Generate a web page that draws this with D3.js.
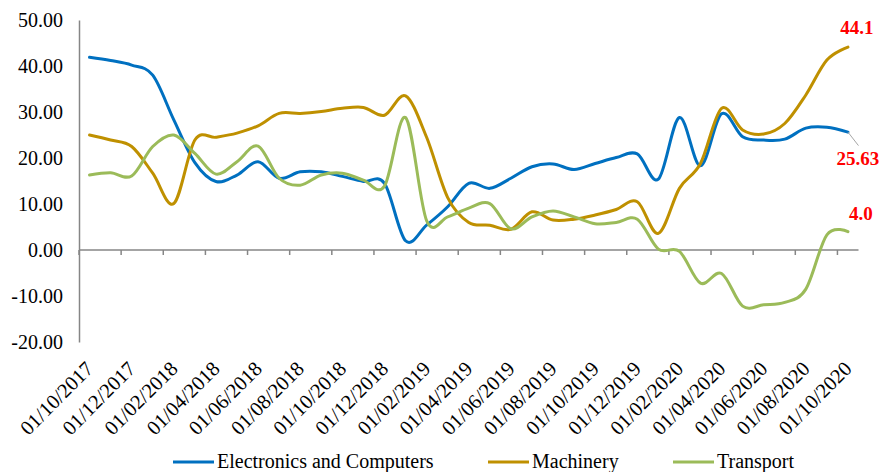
<!DOCTYPE html>
<html>
<head>
<meta charset="utf-8">
<script src="https://cdn.jsdelivr.net/npm/d3@7"></script>
<style>
  body { margin: 0; background: #fff; }
  svg { display: block; }
  text { font-family: "Liberation Serif", "Times New Roman", serif; fill: #000; }
</style>
</head>
<body>
<svg id="chart" width="881" height="472"></svg>
<script>
// Monthly categories, Oct 2017 – Oct 2020
const months = [
  "01/10/2017","01/11/2017","01/12/2017","01/01/2018","01/02/2018","01/03/2018",
  "01/04/2018","01/05/2018","01/06/2018","01/07/2018","01/08/2018","01/09/2018",
  "01/10/2018","01/11/2018","01/12/2018","01/01/2019","01/02/2019","01/03/2019",
  "01/04/2019","01/05/2019","01/06/2019","01/07/2019","01/08/2019","01/09/2019",
  "01/10/2019","01/11/2019","01/12/2019","01/01/2020","01/02/2020","01/03/2020",
  "01/04/2020","01/05/2020","01/06/2020","01/07/2020","01/08/2020","01/09/2020",
  "01/10/2020"
];

const electronics = [
  41.9, 41.2, 40.2, 38.0, 28.3, 19.0, 14.9, 16.3, 19.2, 15.6, 17.0, 17.0,
  16.0, 14.9, 14.5, 2.0, 5.4, 9.4, 14.5, 13.4, 15.6, 18.1, 18.7, 17.5,
  18.8, 20.1, 20.9, 15.4, 28.8, 18.3, 29.6, 24.6, 23.9, 24.1, 26.5, 26.7,
  25.63
];

const machinery = [
  25.0, 23.9, 22.5, 16.7, 10.1, 23.9, 24.5, 25.4, 27.0, 29.7, 29.7, 30.1,
  30.8, 31.0, 29.3, 33.5, 24.5, 11.4, 6.0, 5.4, 4.5, 8.3, 6.5, 6.7,
  7.6, 8.8, 10.5, 3.6, 13.4, 18.8, 30.8, 26.1, 25.2, 27.5, 33.7, 41.3,
  44.1
];

const transport = [
  16.3, 16.8, 16.1, 22.5, 25.0, 21.0, 16.5, 19.2, 22.6, 15.6, 14.1, 16.3,
  16.7, 15.2, 13.9, 28.8, 6.4, 7.2, 9.1, 10.1, 4.6, 7.2, 8.5, 7.2,
  5.7, 6.0, 6.7, 0.2, -0.3, -7.2, -5.1, -12.2, -11.9, -11.4, -8.5, 3.3,
  4.0
];

const yTicks = [-20, -10, 0, 10, 20, 30, 40, 50];

const seriesNames = ["Electronics and Computers", "Machinery", "Transport"];
const seriesColors = ["#0070C0", "#BF9000", "#9BBB59"];
const seriesValues = [electronics, machinery, transport];

// End-of-series value labels
const endLabels = ["25.63", "44.1", "4.0"];

const svg = d3.select("#chart");
const axisColor = "#868686";

const x = d3.scaleBand().domain(months).range([79, 858.5]);
const y = d3.scaleLinear().domain([-20, 50]).range([342, 20]);
const cx = i => x(months[i]) + x.bandwidth() / 2;

// Y axis
const yAxis = d3.axisLeft(y)
  .tickValues(yTicks)
  .tickSize(0)
  .tickPadding(16)
  .tickFormat(v => v.toFixed(2));
const yg = svg.append("g").attr("transform", `translate(${x.range()[0]},0)`).call(yAxis);
yg.select(".domain").attr("stroke", axisColor).attr("stroke-width", 1.5);
yg.selectAll(".tick text")
  .attr("font-family", '"Liberation Serif", "Times New Roman", serif')
  .attr("font-size", 20).attr("fill", "#000");

// X axis line at zero with tick marks every two months
const xg = svg.append("g");
xg.append("line")
  .attr("x1", x.range()[0]).attr("x2", x.range()[1])
  .attr("y1", y(0)).attr("y2", y(0))
  .attr("stroke", axisColor).attr("stroke-width", 1.5);
const tickIdx = months.map((m, i) => i).filter(i => i % 2 === 0);
xg.selectAll("line.tick")
  .data(tickIdx)
  .join("line")
  .attr("class", "tick")
  .attr("x1", i => x(months[i])).attr("x2", i => x(months[i]))
  .attr("y1", y(0)).attr("y2", y(0) + 5)
  .attr("stroke", axisColor).attr("stroke-width", 1.5);

// Rotated category labels below the plot
xg.selectAll("text.xl")
  .data(tickIdx)
  .join("text")
  .attr("class", "xl")
  .attr("transform", i => `translate(${cx(i)},${365}) rotate(-45)`)
  .attr("text-anchor", "end")
  .attr("dy", "0.35em")
  .attr("font-size", 20.5)
  .text(i => months[i]);

// Smoothed series lines
const line = d3.line()
  .x((d, i) => cx(i))
  .y(d => y(d))
  .curve(d3.curveCardinal.tension(0));

svg.append("g").selectAll("path")
  .data(seriesValues)
  .join("path")
  .attr("d", d => line(d))
  .attr("fill", "none")
  .attr("stroke", (d, i) => seriesColors[i])
  .attr("stroke-width", 3)
  .attr("stroke-linejoin", "round")
  .attr("stroke-linecap", "round");

// Value labels at the last month
const last = months.length - 1;
const lx = cx(last);
const lab = svg.append("g")
  .attr("font-weight", "bold").attr("font-size", 19)
  .attr("text-anchor", "middle");
// Electronics: label below with a leader line
svg.append("line")
  .attr("x1", lx).attr("y1", y(electronics[last]))
  .attr("x2", lx + 10.5).attr("y2", y(electronics[last]) + 13.5)
  .attr("stroke", "#A6A6A6").attr("stroke-width", 1);
lab.append("text").attr("x", lx + 10).attr("y", y(electronics[last]) + 33)
  .style("fill", "#FF0000").text(endLabels[0]);
lab.append("text").attr("x", lx + 9).attr("y", y(machinery[last]) - 13.5)
  .style("fill", "#FF0000").text(endLabels[1]);
lab.append("text").attr("x", lx + 13).attr("y", y(transport[last]) - 12)
  .style("fill", "#FF0000").text(endLabels[2]);

// Legend
const legendX = [173, 488, 673];
const lg = svg.append("g").selectAll("g")
  .data(seriesNames)
  .join("g")
  .attr("transform", (d, i) => `translate(${legendX[i]},462)`);
lg.append("line")
  .attr("x1", 0).attr("x2", 41).attr("y1", 0).attr("y2", 0)
  .attr("stroke", (d, i) => seriesColors[i]).attr("stroke-width", 3);
lg.append("text")
  .attr("x", 44).attr("y", 5.5)
  .attr("font-size", 20)
  .text(d => d);
</script>
</body>
</html>
